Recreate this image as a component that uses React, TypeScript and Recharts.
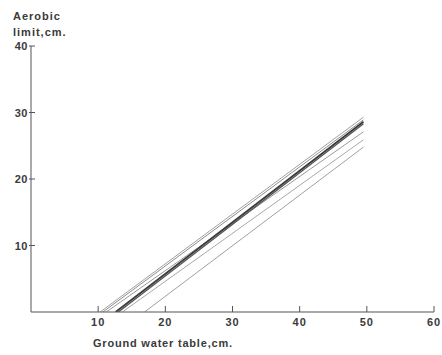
import { LineChart, Line, XAxis, YAxis } from 'recharts';

// each line runs from (startX, 0) to (endX, endY)
const startX = [10.3, 10.7, 11.2, 12.6, 13.0, 13.6, 16.9];
const endX = 49.5;
const endY = [29.3, 28.9, 27.1, 28.6, 28.3, 25.9, 24.8];
const lineColors = ['#a0a0a0', '#8c8c8c', '#9a9a9a', '#3a3a3a', '#555555', '#a8a8a8', '#a0a0a0'];
const lineWidths = [1, 1, 1, 1.8, 1.4, 1, 1];

const xTicks = [10, 20, 30, 40, 50, 60];
const yTicks = [10, 20, 30, 40];

const lines = startX.map((sx, i) => [
  { x: sx, y: 0 },
  { x: endX, y: endY[i] },
]);

const font = '"Liberation Sans", Arial, sans-serif';
const textColor = '#3a3a3a';
const axisColor = '#555';

const XTick = (props: any) => {
  const { x, y, payload } = props;
  return (
    <g>
      <line x1={x} y1={y} x2={x} y2={y - 6} stroke={axisColor} strokeWidth={1} />
      <text x={x} y={y + 14} textAnchor="middle" fontFamily={font} fontWeight="bold" fontSize={11} letterSpacing={1} fill={textColor}>
        {payload.value}
      </text>
    </g>
  );
};

const YTick = (props: any) => {
  const { x, y, payload } = props;
  return (
    <g>
      <line x1={x - 2} y1={y} x2={x + 4} y2={y} stroke={axisColor} strokeWidth={1} />
      <text x={x - 3} y={y + 4} textAnchor="end" fontFamily={font} fontWeight="bold" fontSize={11} letterSpacing={0.5} fill={textColor}>
        {payload.value}
      </text>
    </g>
  );
};

const App = () => {
  return (
    <div style={{ position: 'absolute', left: 0, top: 0, width: 442, height: 355, background: '#fff' }}>
      <LineChart width={442} height={355} margin={{ top: 46, right: 8, left: 0, bottom: 0 }}>
        <XAxis
          type="number"
          dataKey="x"
          domain={[0, 60]}
          ticks={xTicks}
          allowDataOverflow
          height={43}
          stroke={axisColor}
          tickLine={false}
          tickSize={0}
          tickMargin={0}
          tick={<XTick />}
          label={{
            content: () => (
              <text x={93} y={347} fontFamily={font} fontWeight="bold" fontSize={11} letterSpacing={0.8} fill={textColor}>
                Ground water table,cm.
              </text>
            ),
          }}
        />
        <YAxis
          type="number"
          dataKey="y"
          domain={[0, 40]}
          ticks={yTicks}
          allowDataOverflow
          width={31}
          stroke={axisColor}
          tickLine={false}
          tickSize={0}
          tickMargin={0}
          tick={<YTick />}
          label={{
            content: () => (
              <g>
                <text x={13} y={20} fontFamily={font} fontWeight="bold" fontSize={11} letterSpacing={1} fill={textColor}>
                  Aerobic
                </text>
                <text x={13} y={36} fontFamily={font} fontWeight="bold" fontSize={11} letterSpacing={1} fill={textColor}>
                  limit,cm.
                </text>
              </g>
            ),
          }}
        />
        {lines.map((d, i) => (
          <Line
            key={i}
            data={d}
            dataKey="y"
            type="linear"
            stroke={lineColors[i]}
            strokeWidth={lineWidths[i]}
            dot={false}
            activeDot={false}
            isAnimationActive={false}
          />
        ))}
      </LineChart>
    </div>
  );
};

export default App;
